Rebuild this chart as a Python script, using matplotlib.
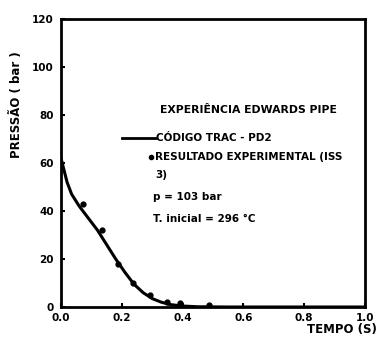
import matplotlib
matplotlib.use("Agg")
import matplotlib.pyplot as plt

# TRAC-PD2 code curve
code_t = [0.0, 0.01, 0.02, 0.035, 0.06, 0.09, 0.12, 0.15, 0.18, 0.21, 0.24, 0.27, 0.30, 0.33, 0.36, 0.40, 0.45, 0.55, 0.7, 1.0]
code_p = [62, 57, 52, 47, 42, 37, 32, 26, 20, 14.5, 9.5, 6, 3.5, 2, 1, 0.4, 0.1, 0, 0, 0]
# experimental results
exp_t = [0.073, 0.134, 0.188, 0.237, 0.293, 0.349, 0.391, 0.487]
exp_p = [43, 32, 18, 10, 5, 2, 1.5, 1]

xticks = [0.0, 0.2, 0.4, 0.6, 0.8, 1.0]
xticklabels = ["0.0", "0.2", "0.4", "0.6", "0.8", "1.0"]
yticks = [0, 20, 40, 60, 80, 100, 120]

plt.rcParams['font.family'] = ['DejaVu Sans']
plt.rcParams['font.weight'] = 'bold'

fig = plt.figure(figsize=(3.79, 3.41), dpi=100)
ax = fig.add_axes([61/379, 1-307/341, (365-61)/379, (307-19)/341])
ax.plot(code_t, code_p, color='black', lw=2.2)
ax.plot(exp_t, exp_p, 'o', color='black', ms=3.5)
ax.set_xlim(0, 1.0)
ax.set_ylim(0, 120)
ax.set_xticks(xticks)
ax.set_xticklabels(xticklabels)
ax.set_yticks(yticks)
for s in ax.spines.values():
    s.set_linewidth(2)
ax.tick_params(direction='in', length=3, width=1.5, labelsize=7.5)
ax.tick_params(axis='x', pad=4)
ax.tick_params(axis='y', pad=5)
for lab in ax.get_xticklabels() + ax.get_yticklabels():
    lab.set_fontweight('bold')

fig.text(17/379, 1-105/341, "PRESSÃO ( bar )", rotation=90, ha='center', va='center', fontsize=8.5, fontweight='bold')
fig.text(377/379, 1-329/341, "TEMPO (S)", ha='right', va='center', fontsize=8.5, fontweight='bold')

def ft(x, y, s, size=7.5):
    fig.text(x/379, 1-y/341, s, ha='left', va='center', fontsize=size, fontweight='bold')

ft(160, 110, "EXPERIÊNCIA EDWARDS PIPE", 7.8)
fig.add_artist(plt.Line2D([122/379, 156/379], [1-138/341, 1-138/341], color='black', lw=2))
ft(156, 138, "CÓDIGO TRAC - PD2")
fig.add_artist(plt.Line2D([151/379], [1-157/341], marker='o', color='black', ms=3))
ft(155, 157, "RESULTADO EXPERIMENTAL (ISS")
ft(155, 175, "3)")
ft(153, 197, "p = 103 bar")
ft(153, 219, "T. inicial = 296 °C")

fig.savefig("out.png", dpi=100)
